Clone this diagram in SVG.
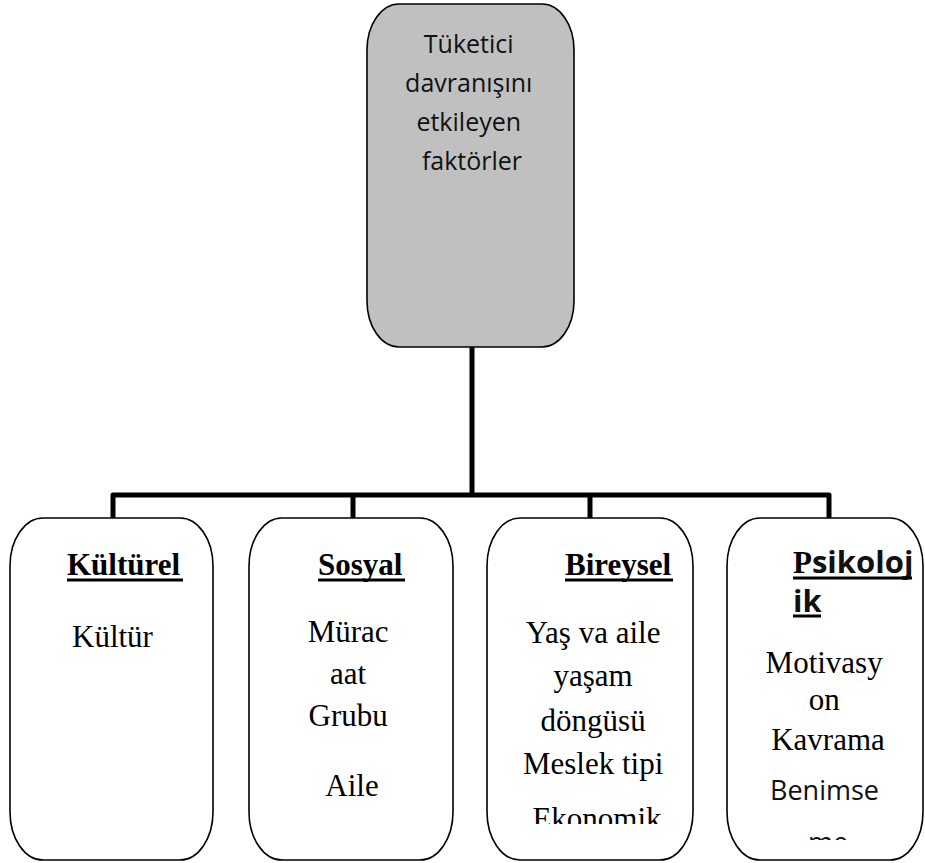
<svg xmlns="http://www.w3.org/2000/svg" width="925" height="863" viewBox="0 0 925 863">
  <style>
    .box { fill: #ffffff; stroke: #000000; stroke-width: 1.6; }
    .root { fill: #c0c0c0; stroke: #000000; stroke-width: 1.6; }
    .wire { fill: none; stroke: #000000; stroke-width: 5; stroke-linejoin: round; }
    .sans { font-family: "Open Sans", "Noto Sans", sans-serif; fill: #111111; }
    .serif { font-family: "Liberation Serif", "Times New Roman", serif; fill: #000000; }
    .title { font-size: 25px; }
    .head { font-size: 31px; font-weight: bold; }
    .item { font-size: 31px; }
    .uline { stroke: #000000; stroke-width: 3; }
  </style>
  <defs>
    <clipPath id="clip-bireysel"><rect x="488" y="520" width="204" height="304"/></clipPath>
    <clipPath id="clip-psikolojik"><rect x="728" y="520" width="194" height="320"/></clipPath>
  </defs>

  <rect width="925" height="863" fill="#ffffff"/>

  <!-- connectors: trunk, crossbar and drops -->
  <g id="connectors">
    <path class="wire" d="M472 347 V495"/>
    <path class="wire" d="M113 518 V495 H829 V518"/>
    <path class="wire" d="M353 495 V518"/>
    <path class="wire" d="M590 495 V518"/>
  </g>

  <!-- root node -->
  <g id="node-root">
    <rect class="root" x="367" y="4" width="207" height="343" rx="32" ry="46"/>
    <text class="sans title" text-anchor="middle">
      <tspan x="472" y="53">Tüketici</tspan>
      <tspan x="472" y="92">davranışını</tspan>
      <tspan x="472" y="131">etkileyen</tspan>
      <tspan x="472" y="170">faktörler</tspan>
    </text>
  </g>

  <!-- cultural factors -->
  <g id="node-kulturel">
    <rect class="box" x="10" y="518" width="203" height="342" rx="33" ry="48"/>
    <text class="serif head" x="67" y="575">Kültürel</text>
    <line class="uline" x1="67" y1="580" x2="183" y2="580"/>
    <text class="serif item" x="72" y="647">Kültür</text>
  </g>

  <!-- social factors -->
  <g id="node-sosyal">
    <rect class="box" x="249" y="518" width="204" height="342" rx="33" ry="48"/>
    <text class="serif head" x="318" y="575">Sosyal</text>
    <line class="uline" x1="318" y1="580" x2="405" y2="580"/>
    <text class="serif item" text-anchor="middle">
      <tspan x="352" y="642">Mürac</tspan>
      <tspan x="352" y="684">aat</tspan>
      <tspan x="352" y="726">Grubu</tspan>
      <tspan x="352" y="796">Aile</tspan>
    </text>
  </g>

  <!-- personal factors -->
  <g id="node-bireysel">
    <rect class="box" x="487" y="518" width="206" height="342" rx="33" ry="48"/>
    <text class="serif head" x="565" y="575">Bireysel</text>
    <line class="uline" x1="565" y1="580" x2="673" y2="580"/>
    <text class="serif item" text-anchor="middle" clip-path="url(#clip-bireysel)">
      <tspan x="597" y="643">Yaş va aile</tspan>
      <tspan x="597" y="686">yaşam</tspan>
      <tspan x="597" y="731">döngüsü</tspan>
      <tspan x="597" y="774">Meslek tipi</tspan>
      <tspan x="597" y="829">Ekonomik</tspan>
    </text>
  </g>

  <!-- psychological factors -->
  <g id="node-psikolojik">
    <rect class="box" x="727" y="518" width="196" height="342" rx="33" ry="48"/>
    <text class="head" x="793" y="573"><tspan class="serif">P</tspan><tspan class="sans">sikoloj</tspan></text>
    <line class="uline" x1="793" y1="578" x2="912" y2="578"/>
    <text class="sans head" x="793" y="612">ik</text>
    <line class="uline" x1="793" y1="616" x2="821" y2="616"/>
    <g clip-path="url(#clip-psikolojik)">
      <text class="serif item" text-anchor="middle" font-size="26">
        <tspan x="828" y="673">Motivasy</tspan>
        <tspan x="828" y="710">on</tspan>
        <tspan x="828" y="750">Kavrama</tspan>
      </text>
      <text class="sans" font-size="27" text-anchor="middle">
        <tspan x="828" y="800">Benimse</tspan>
        <tspan x="828" y="852">me</tspan>
      </text>
    </g>
  </g>
</svg>
